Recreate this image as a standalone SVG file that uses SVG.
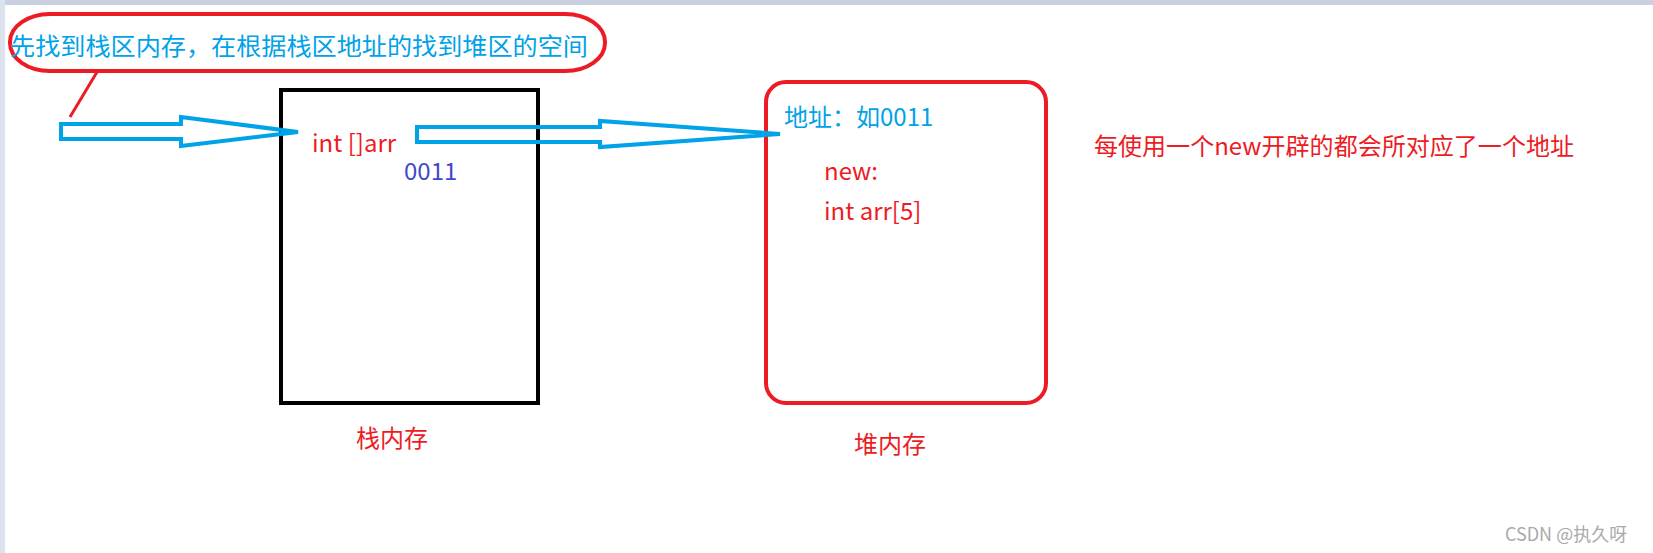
<svg xmlns="http://www.w3.org/2000/svg" width="1653" height="553" viewBox="0 0 1653 553">
<style>
text{font-family:"Microsoft YaHei","Noto Sans CJK SC","Noto Sans",sans-serif;font-size:24px}
.red{fill:#ed1c24}.blue{fill:#00a2e8}
.arrow{fill:none;stroke:#00a2e8;stroke-width:4;stroke-linejoin:miter}
</style>
<rect width="1653" height="553" fill="#fff"/>
<rect width="1653" height="5" fill="#c9d1e0"/>
<rect width="5" height="553" fill="#dde3ee"/>
<g id="callout">
<rect x="10" y="14" width="595" height="57" rx="40" ry="28" fill="none" stroke="#ed1c24" stroke-width="4"/>
<line x1="97" y1="72" x2="70" y2="117" stroke="#ed1c24" stroke-width="3"/>
<text x="10" y="55" class="blue" textLength="578" lengthAdjust="spacingAndGlyphs">先找到栈区内存，在根据栈区地址的找到堆区的空间</text>
</g>
<g id="stack">
<rect x="281" y="90" width="257" height="313" fill="none" stroke="#000" stroke-width="4"/>
<text x="312" y="152" class="red">int []arr</text>
<text x="404" y="180" fill="#3f48cc">0011</text>
<text x="356" y="447" class="red">栈内存</text>
</g>
<g id="heap">
<rect x="766" y="82" width="280" height="321" rx="20" fill="none" stroke="#ed1c24" stroke-width="4"/>
<text x="784" y="126" class="blue">地址：如0011</text>
<text x="824" y="180" class="red">new:</text>
<text x="824" y="220" class="red">int arr[5]</text>
<text x="854" y="453" class="red">堆内存</text>
</g>
<g id="note">
<text x="1094" y="155" class="red" textLength="480" lengthAdjust="spacingAndGlyphs">每使用一个new开辟的都会所对应了一个地址</text>
</g>
<g id="connectors">
<polygon class="arrow" points="61,124 181,124 181,117 298,132 181,146 181,139 61,139"/>
<polygon class="arrow" points="417,127 600,127 600,121 780,134 600,147 600,142 417,142"/>
</g>
<text x="1505" y="541" fill="#aaa" style="font-size:18px">CSDN @执久呀</text>
</svg>
